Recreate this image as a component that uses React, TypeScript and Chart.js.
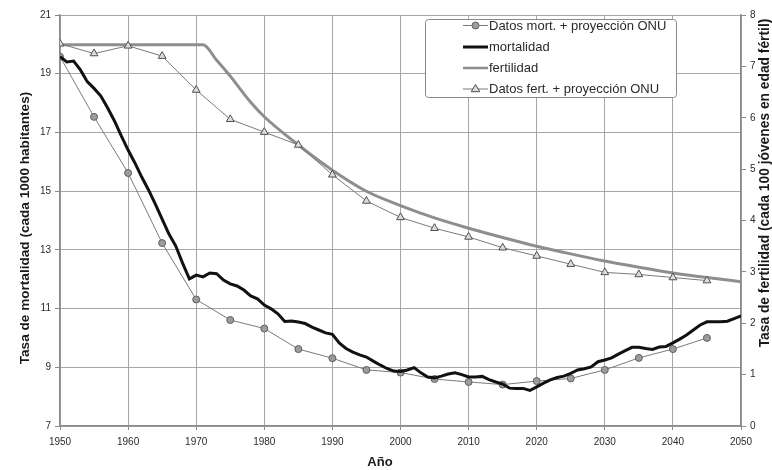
import { useEffect, useRef } from "react";
import { Chart, registerables } from "chart.js";

Chart.register(...registerables);

// ---- Data ----
const dataYears = [1950, 1955, 1960, 1965, 1970, 1975, 1980, 1985, 1990, 1995, 2000, 2005, 2010, 2015, 2020, 2025, 2030, 2035, 2040, 2045];
const mortDataValues = [19.58, 17.53, 15.62, 13.23, 11.31, 10.61, 10.32, 9.62, 9.31, 8.91, 8.82, 8.6, 8.5, 8.41, 8.53, 8.62, 8.91, 9.32, 9.62, 10.0];
const fertDataValues = [7.44, 7.25, 7.4, 7.2, 6.54, 5.97, 5.72, 5.47, 4.89, 4.38, 4.06, 3.85, 3.68, 3.47, 3.31, 3.15, 2.99, 2.95, 2.89, 2.83];

const mortalityStartYear = 1950;
const mortalityValues = [
  19.58, 19.4, 19.43, 19.13, 18.73, 18.5, 18.24, 17.83, 17.39, 16.88,
  16.4, 15.96, 15.48, 15.04, 14.56, 14.05, 13.54, 13.13, 12.55, 12.01,
  12.14, 12.08, 12.21, 12.19, 11.97, 11.84, 11.77, 11.63, 11.43, 11.33,
  11.12, 10.99, 10.82, 10.56, 10.58, 10.54, 10.49, 10.37, 10.27, 10.17,
  10.12, 9.83, 9.64, 9.52, 9.42, 9.35, 9.21, 9.08, 8.96, 8.87,
  8.86, 8.91, 8.99, 8.81, 8.67, 8.64, 8.7, 8.77, 8.81, 8.75,
  8.67, 8.67, 8.69, 8.58, 8.5, 8.43, 8.29, 8.28, 8.28, 8.21,
  8.33, 8.46, 8.57, 8.65, 8.7, 8.79, 8.91, 8.95, 9.01, 9.19,
  9.25, 9.32, 9.45, 9.57, 9.68, 9.68, 9.64, 9.61, 9.69, 9.71,
  9.83, 9.96, 10.1, 10.27, 10.44, 10.55, 10.55, 10.55, 10.57, 10.66,
  10.75,
];

const fertilityYears = [1950, 1971, 1973, 1975, 1978, 1980, 1985, 1990, 1995, 2000, 2005, 2010, 2015, 2020, 2025, 2030, 2035, 2040, 2045, 2050];
const fertilityValues = [7.42, 7.42, 7.12, 6.81, 6.3, 6.02, 5.47, 4.98, 4.57, 4.29, 4.05, 3.85, 3.67, 3.5, 3.35, 3.21, 3.09, 2.98, 2.89, 2.81];

const xTicks = [1950, 1960, 1970, 1980, 1990, 2000, 2010, 2020, 2030, 2040, 2050];
const leftTicks = [7, 9, 11, 13, 15, 17, 19, 21];
const rightTicks = [0, 1, 2, 3, 4, 5, 6, 7, 8];

const legendLabels = [
  "Datos mort. + proyección ONU",
  "mortalidad",
  "fertilidad",
  "Datos fert. + proyección ONU",
];
const xTitle = "Año";
const leftTitle = "Tasa de mortalidad (cada 1000 habitantes)";
const rightTitle = "Tasa de fertilidad (cada 100 jóvenes en edad fértil)";

// ---- Styles ----
const FONT = "'Liberation Sans', Arial, sans-serif";
const GRID = "#a6a6a6";
const AXIS = "#8a8a8a";
const TICK_TEXT = "#2a2a2a";
const MORT_DATA_LINE = "#7a7a7a";
const MORT_DATA_FILL = "#9c9c9c";
const MORT_DATA_EDGE = "#5e5e5e";
const FERT_DATA_LINE = "#7a7a7a";
const FERT_DATA_FILL = "#dcdcdc";
const FERT_DATA_EDGE = "#4e4e4e";
const FERT_LINE = "#8e8e8e";
const MORT_LINE = "#111111";

function drawCircle(ctx: CanvasRenderingContext2D, x: number, y: number) {
  ctx.beginPath();
  ctx.arc(x, y, 3.5, 0, Math.PI * 2);
  ctx.fillStyle = MORT_DATA_FILL;
  ctx.fill();
  ctx.lineWidth = 1;
  ctx.strokeStyle = MORT_DATA_EDGE;
  ctx.stroke();
}

function drawTriangle(ctx: CanvasRenderingContext2D, x: number, y: number) {
  const r = 4.5;
  ctx.beginPath();
  ctx.moveTo(x, y - r);
  ctx.lineTo(x + r * 0.95, y + r * 0.6);
  ctx.lineTo(x - r * 0.95, y + r * 0.6);
  ctx.closePath();
  ctx.fillStyle = FERT_DATA_FILL;
  ctx.fill();
  ctx.lineWidth = 1;
  ctx.strokeStyle = FERT_DATA_EDGE;
  ctx.stroke();
}

const decorPlugin = {
  id: "decor",
  afterDraw(chart: any) {
    const ctx: CanvasRenderingContext2D = chart.ctx;
    ctx.save();
    // Axis titles
    ctx.fillStyle = "#1a1a1a";
    ctx.textAlign = "center";
    ctx.textBaseline = "middle";
    ctx.font = `bold 13px ${FONT}`;
    ctx.fillText(xTitle, 380, 462);

    ctx.font = `bold 13.6px ${FONT}`;
    ctx.save();
    ctx.translate(25, 228);
    ctx.rotate(-Math.PI / 2);
    ctx.fillText(leftTitle, 0, 0);
    ctx.restore();

    ctx.font = `bold 13.8px ${FONT}`;
    ctx.save();
    ctx.translate(765, 183);
    ctx.rotate(-Math.PI / 2);
    ctx.fillText(rightTitle, 0, 0);
    ctx.restore();

    // Legend box
    const bx = 425.5, by = 19.5, bw = 251, bh = 78;
    ctx.beginPath();
    const rr = 3;
    ctx.moveTo(bx + rr, by);
    ctx.lineTo(bx + bw - rr, by);
    ctx.quadraticCurveTo(bx + bw, by, bx + bw, by + rr);
    ctx.lineTo(bx + bw, by + bh - rr);
    ctx.quadraticCurveTo(bx + bw, by + bh, bx + bw - rr, by + bh);
    ctx.lineTo(bx + rr, by + bh);
    ctx.quadraticCurveTo(bx, by + bh, bx, by + bh - rr);
    ctx.lineTo(bx, by + rr);
    ctx.quadraticCurveTo(bx, by, bx + rr, by);
    ctx.closePath();
    ctx.fillStyle = "#ffffff";
    ctx.fill();
    ctx.lineWidth = 1;
    ctx.strokeStyle = "#8a8a8a";
    ctx.stroke();

    const rows = [25.5, 47, 68, 89];
    const sx0 = 463, sx1 = 488, mx = 475.5;
    ctx.lineWidth = 1;
    ctx.strokeStyle = MORT_DATA_LINE;
    ctx.beginPath(); ctx.moveTo(sx0, rows[0]); ctx.lineTo(sx1, rows[0]); ctx.stroke();
    drawCircle(ctx, mx, rows[0]);
    ctx.lineWidth = 3;
    ctx.strokeStyle = MORT_LINE;
    ctx.beginPath(); ctx.moveTo(sx0, rows[1]); ctx.lineTo(sx1, rows[1]); ctx.stroke();
    ctx.lineWidth = 2.5;
    ctx.strokeStyle = FERT_LINE;
    ctx.beginPath(); ctx.moveTo(sx0, rows[2]); ctx.lineTo(sx1, rows[2]); ctx.stroke();
    ctx.lineWidth = 1;
    ctx.strokeStyle = FERT_DATA_LINE;
    ctx.beginPath(); ctx.moveTo(sx0, rows[3]); ctx.lineTo(sx1, rows[3]); ctx.stroke();
    drawTriangle(ctx, mx, rows[3]);

    ctx.font = `13px ${FONT}`;
    ctx.fillStyle = "#2a2a2a";
    ctx.textAlign = "left";
    ctx.textBaseline = "middle";
    legendLabels.forEach((t, i) => ctx.fillText(t, 489, rows[i] + 0.5));
    ctx.restore();
  },
};

export default function App() {
  const canvasRef = useRef<HTMLCanvasElement | null>(null);

  useEffect(() => {
    if (!canvasRef.current) return;
    const chart = new Chart(canvasRef.current, {
      type: "line",
      data: {
        datasets: [
          {
            label: legendLabels[1],
            data: mortalityValues.map((v, i) => ({ x: mortalityStartYear + i, y: v })),
            yAxisID: "y",
            borderColor: MORT_LINE,
            borderWidth: 3,
            pointRadius: 0,
            tension: 0,
            order: 0,
          },
          {
            label: legendLabels[0],
            data: dataYears.map((x, i) => ({ x, y: mortDataValues[i] })),
            yAxisID: "y",
            borderColor: MORT_DATA_LINE,
            borderWidth: 1,
            pointRadius: 3.5,
            pointBackgroundColor: MORT_DATA_FILL,
            pointBorderColor: MORT_DATA_EDGE,
            pointBorderWidth: 1,
            order: 1,
          },
          {
            label: legendLabels[3],
            data: dataYears.map((x, i) => ({ x, y: fertDataValues[i] })),
            yAxisID: "y1",
            borderColor: FERT_DATA_LINE,
            borderWidth: 1,
            pointStyle: "triangle",
            pointRadius: 4.5,
            pointBackgroundColor: FERT_DATA_FILL,
            pointBorderColor: FERT_DATA_EDGE,
            pointBorderWidth: 1,
            order: 2,
          },
          {
            label: legendLabels[2],
            data: fertilityYears.map((x, i) => ({ x, y: fertilityValues[i] })),
            yAxisID: "y1",
            borderColor: FERT_LINE,
            borderWidth: 3,
            pointRadius: 0,
            cubicInterpolationMode: "monotone",
            order: 3,
          },
        ],
      },
      options: {
        responsive: false,
        animation: false,
        events: [],
        layout: { padding: { top: 15, left: 0, right: 0, bottom: 0 } },
        plugins: {
          legend: { display: false },
          tooltip: { enabled: false },
          title: { display: false },
        },
        scales: {
          x: {
            type: "linear",
            min: 1950,
            max: 2050,
            afterBuildTicks: (s: any) => { s.ticks = xTicks.map((v) => ({ value: v })); },
            afterFit: (s: any) => { s.height = 44; },
            grid: { color: GRID, lineWidth: 1, tickLength: 4, tickColor: AXIS },
            border: { display: true, color: AXIS, width: 1.5 },
            ticks: {
              color: TICK_TEXT,
              font: { family: FONT, size: 10 },
              padding: 6,
              maxRotation: 0,
              autoSkip: false,
              callback: (v: any) => String(v),
            },
          },
          y: {
            type: "linear",
            position: "left",
            min: 7,
            max: 21,
            afterBuildTicks: (s: any) => { s.ticks = leftTicks.map((v) => ({ value: v })); },
            afterFit: (s: any) => { s.width = 60; },
            grid: { color: GRID, lineWidth: 1, tickLength: 5, tickColor: AXIS },
            border: { display: true, color: AXIS, width: 1.5 },
            ticks: {
              color: TICK_TEXT,
              font: { family: FONT, size: 10 },
              padding: 4,
              autoSkip: false,
              callback: (v: any) => String(v),
            },
          },
          y1: {
            type: "linear",
            position: "right",
            min: 0,
            max: 8,
            afterBuildTicks: (s: any) => { s.ticks = rightTicks.map((v) => ({ value: v })); },
            afterFit: (s: any) => { s.width = 31; },
            grid: { drawOnChartArea: false, tickLength: 5, tickColor: AXIS, color: AXIS },
            border: { display: true, color: AXIS, width: 1.5 },
            ticks: {
              color: TICK_TEXT,
              font: { family: FONT, size: 10 },
              padding: 4,
              autoSkip: false,
              callback: (v: any) => String(v),
            },
          },
        },
      },
      plugins: [decorPlugin],
    } as any);
    return () => chart.destroy();
  }, []);

  return (
    <div style={{ position: "fixed", left: 0, top: 0, width: 772, height: 470, background: "#ffffff" }}>
      <canvas ref={canvasRef} width={772} height={470} style={{ display: "block" }} />
    </div>
  );
}
